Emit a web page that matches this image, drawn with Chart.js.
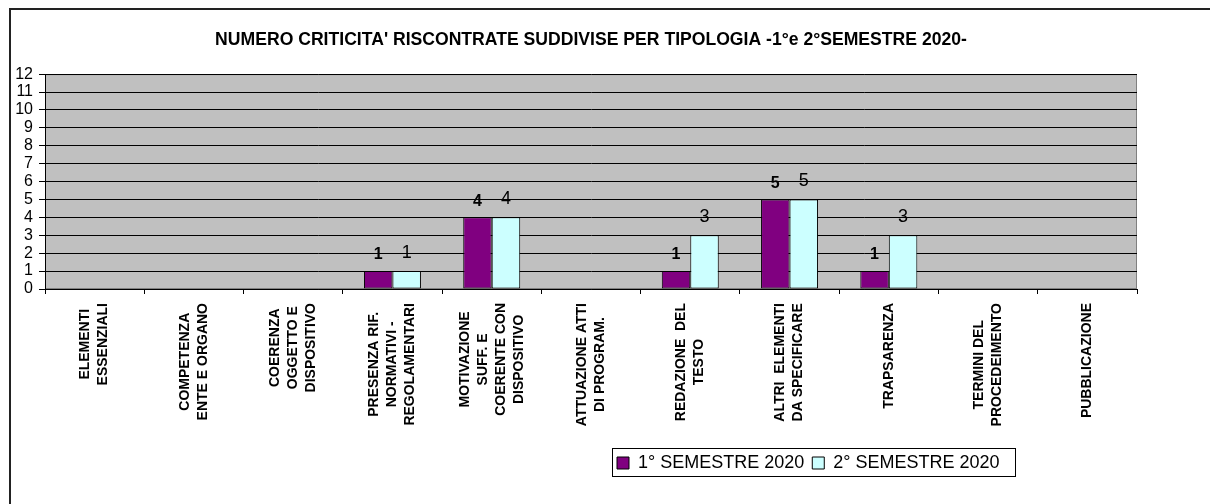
<!DOCTYPE html>
<html>
<head>
<meta charset="utf-8">
<script src="https://cdn.jsdelivr.net/npm/chart.js@4/dist/chart.umd.min.js"></script>
<style>
    html, body { margin: 0; padding: 0; background: #fff; overflow: hidden; }
    canvas { display: block; }
</style>
</head>
<body>
<canvas id="grafico-criticita" width="1210" height="504"></canvas>
<script>
const tipologie = [
    ["ELEMENTI", "ESSENZIALI"],
    ["COMPETENZA", "ENTE E ORGANO"],
    ["COERENZA", "OGGETTO E", "DISPOSITIVO"],
    ["PRESENZA RIF.", "NORMATIVI -", "REGOLAMENTARI"],
    ["MOTIVAZIONE", "SUFF. E", "COERENTE CON", "DISPOSITIVO"],
    ["ATTUAZIONE ATTI", "DI PROGRAM."],
    ["REDAZIONE  DEL", "TESTO"],
    ["ALTRI  ELEMENTI", "DA SPECIFICARE"],
    ["TRAPSARENZA"],
    ["TERMINI DEL", "PROCEDEIMENTO"],
    ["PUBBLICAZIONE"],
];
const primoSemestre = [0, 0, 0, 1, 4, 0, 1, 5, 1, 0, 0];
const secondoSemestre = [0, 0, 0, 1, 4, 0, 3, 5, 3, 0, 0];
const nomiSerie = ["1° SEMESTRE 2020", "2° SEMESTRE 2020"];
const scalaY = [0, 12];
const titolo = "NUMERO CRITICITA' RISCONTRATE SUDDIVISE PER TIPOLOGIA -1°e 2°SEMESTRE 2020-";

const FONT = "'Liberation Sans', Arial, sans-serif";

// sfondo bianco, cornice e area grigia del grafico
const sfondoPlugin = {
    id: "sfondo",
    beforeDraw: (chart) => {
        const { ctx, chartArea: a } = chart;
        ctx.save();
        ctx.fillStyle = "#ffffff";
        ctx.fillRect(0, 0, chart.width, chart.height);
        ctx.strokeStyle = "#222";
        ctx.lineWidth = 2;
        ctx.strokeRect(10, 9, 1400, 700);
        ctx.fillStyle = "#c0c0c0";
        ctx.fillRect(a.left, a.top, a.right - a.left, a.bottom - a.top);
        ctx.strokeStyle = "#808080";
        ctx.lineWidth = 1;
        ctx.strokeRect(a.left + 0.5, a.top + 0.5, a.right - a.left - 1, a.bottom - a.top - 1);
        ctx.restore();
    },
};

// etichette ruotate delle categorie, righe centrate tra loro
const etichetteXPlugin = {
    id: "etichetteX",
    afterDraw: (chart) => {
        const scala = chart.scales.x;
        const ctx = chart.ctx;
        ctx.save();
        ctx.font = "bold 14px " + FONT;
        ctx.fillStyle = "#000";
        ctx.textAlign = "center";
        ctx.textBaseline = "middle";
        tipologie.forEach((righe, i) => {
            const x = scala.getPixelForValue(i);
            const larghezza = Math.max(...righe.map((r) => ctx.measureText(r).width));
            ctx.save();
            ctx.translate(x, scala.top + 14);
            ctx.rotate(-Math.PI / 2);
            righe.forEach((riga, j) => {
                ctx.fillText(riga, -larghezza / 2, (j - (righe.length - 1) / 2) * 18);
            });
            ctx.restore();
        });
        ctx.restore();
    },
};

// valori sopra le barre (gli zeri non si scrivono)
const valoriPlugin = {
    id: "valori",
    afterDatasetsDraw: (chart) => {
        const ctx = chart.ctx;
        ctx.save();
        ctx.fillStyle = "#000";
        ctx.textAlign = "center";
        ctx.textBaseline = "middle";
        chart.data.datasets.forEach((dataset, d) => {
            const meta = chart.getDatasetMeta(d);
            ctx.font = d === 0 ? "bold 16px " + FONT : "18px " + FONT;
            const distanza = d === 0 ? 16 : 18;
            meta.data.forEach((barra, i) => {
                const valore = dataset.data[i];
                if (!valore) {
                    return;
                }
                ctx.fillText(String(valore), barra.x, barra.y - distanza);
            });
        });
        ctx.restore();
    },
};

// legenda spostata a destra come nell'originale, con riquadro
const legendaPlugin = {
    id: "legendaBox",
    afterLayout: (chart) => {
        const lg = chart.legend;
        const h = lg.height;
        lg.left = 609;
        lg.right = 1016;
        lg.width = 407;
        lg.top = 446;
        lg.bottom = 446 + h;
    },
    afterDraw: (chart) => {
        const ctx = chart.ctx;
        ctx.save();
        ctx.strokeStyle = "#000";
        ctx.lineWidth = 1;
        ctx.strokeRect(612.5, 448.5, 403, 28);
        ctx.restore();
    },
};

const ctx = document.getElementById("grafico-criticita").getContext("2d");

new Chart(ctx, {
    type: "bar",
    data: {
        labels: tipologie,
        datasets: [
            {
                label: nomiSerie[0],
                data: primoSemestre,
                backgroundColor: "#800080",
                borderColor: "#000",
                borderWidth: 1,
                borderSkipped: false,
            },
            {
                label: nomiSerie[1],
                data: secondoSemestre,
                backgroundColor: "#ccffff",
                borderColor: "#000",
                borderWidth: 1,
                borderSkipped: false,
            },
        ],
    },
    options: {
        responsive: false,
        animation: false,
        devicePixelRatio: 1,
        layout: {
            padding: { left: 10, top: 8, right: 73, bottom: 29 },
        },
        datasets: {
            bar: {
                categoryPercentage: 0.574,
                barPercentage: 1,
            },
        },
        scales: {
            x: {
                offset: true,
                ticks: { display: false },
                grid: {
                    offset: true,
                    drawOnChartArea: false,
                    drawTicks: true,
                    tickLength: 5,
                    color: "#000",
                },
                border: { color: "#000", width: 1 },
                afterFit: (scale) => {
                    scale.height = 150;
                },
            },
            y: {
                min: scalaY[0],
                max: scalaY[1],
                ticks: {
                    stepSize: 1,
                    autoSkip: false,
                    color: "#000",
                    padding: 6,
                    font: { family: FONT, size: 16, lineHeight: 1 },
                },
                grid: {
                    color: "#000",
                    lineWidth: 1,
                    drawTicks: true,
                    tickLength: 6,
                },
                border: { color: "#000", width: 1 },
                afterFit: (scale) => {
                    scale.width = 35;
                },
            },
        },
        plugins: {
            title: {
                display: true,
                fullSize: false,
                text: titolo,
                color: "#000",
                font: { family: FONT, size: 17.6, weight: "bold" },
                padding: { top: 22, bottom: 23 },
            },
            legend: {
                position: "bottom",
                align: "start",
                labels: {
                    color: "#000",
                    font: { family: FONT, size: 18 },
                    boxWidth: 12,
                    boxHeight: 12,
                    padding: 8,
                },
            },
            tooltip: { enabled: false },
        },
    },
    plugins: [sfondoPlugin, etichetteXPlugin, valoriPlugin, legendaPlugin],
});
</script>
</body>
</html>
